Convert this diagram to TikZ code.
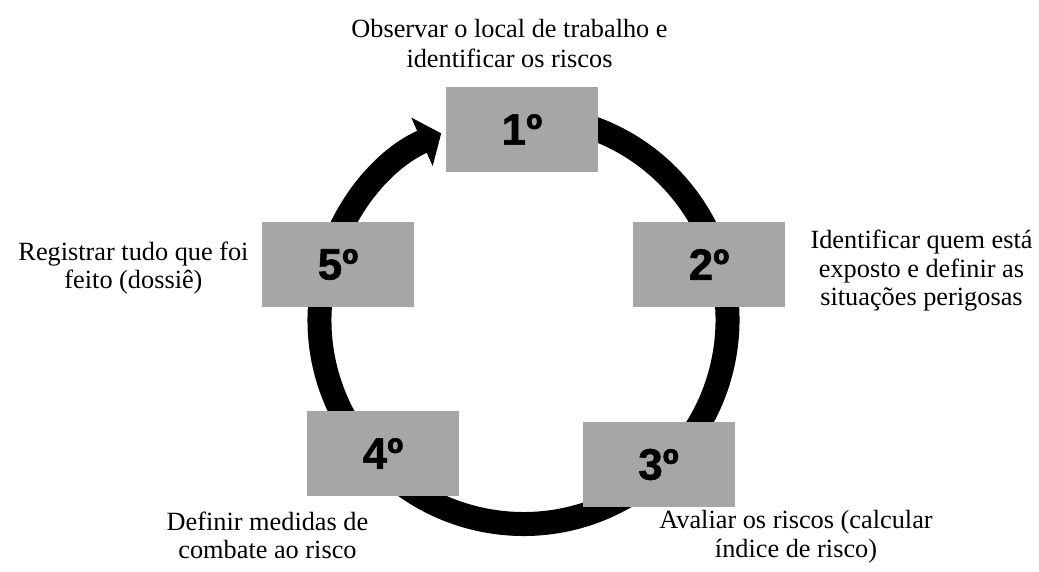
\documentclass[tikz,border=0pt]{standalone}
\usepackage{fontspec}
\setmainfont{Liberation Serif}
\newfontfamily\numfont{Liberation Sans}[BoldFeatures={FakeBold=1.2}]
\usetikzlibrary{arrows.meta}
\definecolor{boxgray}{RGB}{166,166,166}
\tikzset{
  stepbox/.style={fill=boxgray, draw=none, minimum width=152pt, minimum height=85pt, inner sep=0pt,
    font=\numfont\bfseries\fontsize{44}{44}\selectfont},
  lbl/.style={align=center, inner sep=0pt, font=\fontsize{26.3}{28.5}\selectfont},
  ring/.style={line width=24pt, -{Triangle[length=21pt,width=52pt]}}
}
\begin{document}
\begin{tikzpicture}[x=1pt,y=1pt]
\useasboundingbox (0,0) rectangle (1039,572);
\coordinate (c) at (523.5,252);
\draw[ring] (c) ++(80:204) arc[start angle=80, end angle=-246.2, radius=204];
\node[stepbox] (s1) at (522,442.5) {1º};
\node[stepbox] (s2) at (709,307.5) {2º};
\node[stepbox] (s3) at (658.5,107.5) {3º};
\node[stepbox] (s4) at (383,118.5) {4º};
\node[stepbox] (s5) at (338,307.5) {5º};
\node[lbl, font=\fontsize{26.3}{30}\selectfont] (t1) at (509.5,528) {Observar o local de trabalho e\\identificar os riscos};
\node[lbl] (t2) at (921.5,301) {Identificar quem está\\exposto e definir as\\situações perigosas};
\node[lbl] (t3) at (796,35.5) {Avaliar os riscos (calcular\\índice de risco)};
\node[lbl] (t4) at (267.5,36.5) {Definir medidas de\\combate ao risco};
\node[lbl] (t5) at (133.5,304) {Registrar tudo que foi\\feito (dossiê)};
\end{tikzpicture}
\end{document}
